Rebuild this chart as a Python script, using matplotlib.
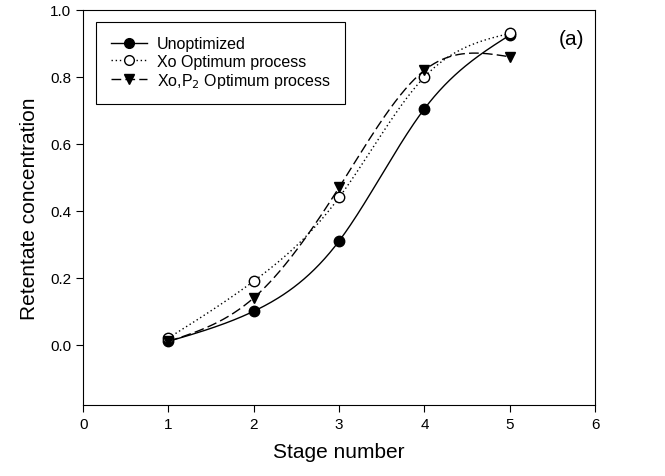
import matplotlib
matplotlib.use('Agg')

import matplotlib.pyplot as plt
import numpy as np

plt.rcParams['font.family'] = ['Liberation Sans', 'DejaVu Sans']

# Values
stages = [1, 2, 3, 4, 5]
unoptimized = [0.01, 0.10, 0.31, 0.705, 0.925]
xo_optimum = [0.02, 0.19, 0.44, 0.80, 0.93]
xo_p2_optimum = [0.01, 0.14, 0.47, 0.82, 0.86]
labels = ['Unoptimized', 'Xo Optimum process', r'Xo,P$_2$ Optimum process']


def natural_spline(x, y, n=200):
    # smooth curve through the points (natural cubic spline)
    x = np.asarray(x, float)
    y = np.asarray(y, float)
    k = len(x)
    h = np.diff(x)
    A = np.zeros((k, k))
    b = np.zeros(k)
    A[0, 0] = A[-1, -1] = 1
    for i in range(1, k - 1):
        A[i, i - 1] = h[i - 1]
        A[i, i] = 2 * (h[i - 1] + h[i])
        A[i, i + 1] = h[i]
        b[i] = 6 * ((y[i + 1] - y[i]) / h[i] - (y[i] - y[i - 1]) / h[i - 1])
    M = np.linalg.solve(A, b)
    xs = np.linspace(x[0], x[-1], n)
    idx = np.clip(np.searchsorted(x, xs) - 1, 0, k - 2)
    x0, x1 = x[idx], x[idx + 1]
    hh = x1 - x0
    ys = (M[idx] * (x1 - xs) ** 3 / (6 * hh) + M[idx + 1] * (xs - x0) ** 3 / (6 * hh)
          + (y[idx] / hh - M[idx] * hh / 6) * (x1 - xs)
          + (y[idx + 1] / hh - M[idx + 1] * hh / 6) * (xs - x0))
    return xs, ys


fig = plt.figure(figsize=(6.65, 4.77), dpi=100)
ax = fig.add_axes([0.125, 0.149, 0.77, 0.828])

styles = [
    dict(ls='-', marker='o', mfc='black'),
    dict(ls=(0, (1, 2)), marker='o', mfc='white'),
    dict(ls=(0, (7, 3)), marker='v', mfc='black'),
]

for vals, lab, st in zip([unoptimized, xo_optimum, xo_p2_optimum], labels, styles):
    xs, ys = natural_spline(stages, vals)
    ax.plot(xs, ys, color='black', lw=1.0, ls=st['ls'])
    ax.plot(stages, vals, ls='none', marker=st['marker'], ms=7.5,
            mfc=st['mfc'], mec='black', mew=1.0)
    # legend proxy
    ax.plot([], [], color='black', lw=1.0, ls=st['ls'], marker=st['marker'],
            ms=7, mfc=st['mfc'], mec='black', mew=1.0, label=lab)

ax.set_xlim(0, 6)
ax.set_ylim(-0.18, 1.0)
ax.set_xticks(range(0, 7))
ax.set_yticks([0.0, 0.2, 0.4, 0.6, 0.8, 1.0])
ax.set_yticklabels(['0.0', '0.2', '0.4', '0.6', '0.8', '1.0'])
ax.tick_params(direction='out', length=5, labelsize=11, top=False, right=False)

ax.set_xlabel('Stage number', fontsize=15, labelpad=8)
ax.set_ylabel('Retentate concentration', fontsize=15, labelpad=8)

ax.text(5.72, 0.915, '(a)', fontsize=15, ha='center', va='center')

leg = ax.legend(loc='upper left', bbox_to_anchor=(0.01, 0.99), fontsize=11.5,
                fancybox=False, edgecolor='black', framealpha=1,
                handlelength=2.3, handletextpad=0.6, borderpad=0.9,
                labelspacing=0.15)
leg.get_frame().set_linewidth(0.8)

plt.savefig('out.png', dpi=100)
plt.close(fig)
